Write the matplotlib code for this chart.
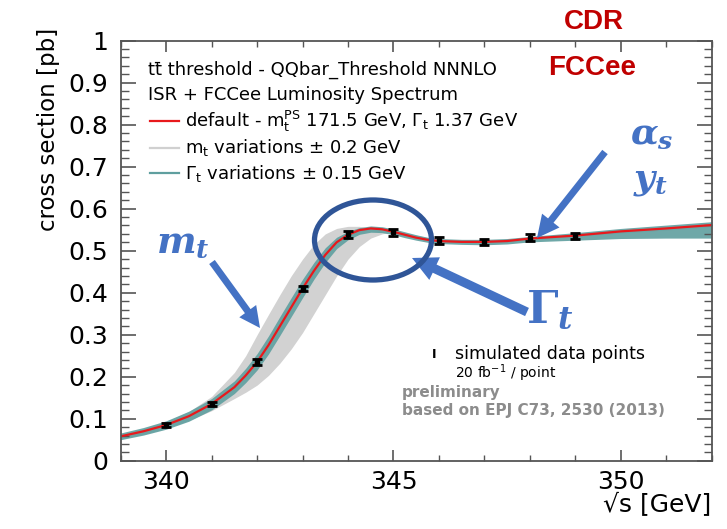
import matplotlib
matplotlib.use("Agg")
import matplotlib.pyplot as plt
import matplotlib.patches as mpatches
from matplotlib.lines import Line2D
from matplotlib.ticker import MultipleLocator

plt.rcParams['font.family'] = ['DejaVu Sans']
plt.rcParams['mathtext.fontset'] = 'custom'
plt.rcParams['mathtext.rm'] = 'DejaVu Sans'
plt.rcParams['mathtext.it'] = 'DejaVu Serif:italic:bold'
plt.rcParams['mathtext.bf'] = 'DejaVu Serif:bold'

# theory curve (default) and variation bands
sqrt_s = [339, 339.5, 340, 340.5, 341, 341.5, 341.75, 342, 342.25, 342.5, 342.75,
          343, 343.25, 343.5, 343.75, 344, 344.25, 344.5, 344.75, 345, 345.25,
          345.5, 345.75, 346, 346.5, 347, 347.5, 348, 349, 350, 351, 352]
xsec_default = [0.058, 0.070, 0.085, 0.106, 0.135, 0.175, 0.203, 0.235, 0.275, 0.320, 0.365,
                0.410, 0.452, 0.490, 0.520, 0.538, 0.549, 0.553, 0.551, 0.545, 0.538,
                0.531, 0.526, 0.523, 0.521, 0.521, 0.523, 0.529, 0.536, 0.546, 0.553, 0.561]
mt_band_hi = [0.063, 0.076, 0.093, 0.117, 0.153, 0.210, 0.250, 0.300, 0.348, 0.395, 0.440,
              0.480, 0.515, 0.540, 0.553, 0.558, 0.558, 0.553, 0.546, 0.540, 0.534,
              0.530, 0.527, 0.525, 0.523, 0.523, 0.525, 0.530, 0.538, 0.546, 0.553, 0.560]
mt_band_lo = [0.052, 0.063, 0.077, 0.096, 0.119, 0.148, 0.163, 0.180, 0.203, 0.232, 0.266,
              0.305, 0.350, 0.395, 0.440, 0.480, 0.510, 0.530, 0.540, 0.545, 0.542,
              0.537, 0.531, 0.526, 0.521, 0.519, 0.521, 0.526, 0.534, 0.542, 0.549, 0.557]
gt_band_hi = [0.066, 0.079, 0.095, 0.118, 0.148, 0.190, 0.220, 0.255, 0.297, 0.343, 0.388,
              0.432, 0.472, 0.507, 0.532, 0.546, 0.555, 0.559, 0.557, 0.552, 0.545,
              0.538, 0.532, 0.529, 0.527, 0.527, 0.529, 0.534, 0.543, 0.553, 0.561, 0.569]
gt_band_lo = [0.050, 0.061, 0.075, 0.094, 0.121, 0.160, 0.186, 0.216, 0.254, 0.298, 0.343,
              0.388, 0.432, 0.472, 0.505, 0.526, 0.539, 0.544, 0.543, 0.538, 0.531,
              0.525, 0.520, 0.517, 0.515, 0.514, 0.516, 0.521, 0.525, 0.529, 0.530, 0.530]

# simulated data points, 20 fb^-1 / point
data_x = [340, 341, 342, 343, 344, 345, 346, 347, 348, 349]
data_y = [0.085, 0.135, 0.235, 0.410, 0.539, 0.544, 0.525, 0.521, 0.531, 0.535]
data_err = [0.005, 0.005, 0.006, 0.007, 0.008, 0.008, 0.008, 0.008, 0.008, 0.008]

W, H = 727, 529


def px(x, y):
    # pixel position in the picture -> figure fraction
    return x / W, 1 - y / H


fig = plt.figure(figsize=(W / 100, H / 100), dpi=100)
ax = fig.add_axes([120.7 / W, (H - 460.7) / H, 591 / W, 420 / H])

ax.fill_between(sqrt_s, mt_band_lo, mt_band_hi, color='#d2d2d2', lw=0)
ax.fill_between(sqrt_s, gt_band_lo, gt_band_hi, color='#5f9f9f', lw=0, alpha=0.9)
ax.plot(sqrt_s, xsec_default, color='#e8191c', lw=1.6)
ax.errorbar(data_x, data_y, yerr=data_err, fmt='s', color='black', ms=3.5,
            capsize=3.5, capthick=2, elinewidth=1.5)

ax.set_xlim(339, 352)
ax.set_ylim(0, 1)
ax.xaxis.set_major_locator(MultipleLocator(5))
ax.xaxis.set_minor_locator(MultipleLocator(1))
ax.yaxis.set_major_locator(MultipleLocator(0.1))
ax.yaxis.set_minor_locator(MultipleLocator(0.02))
ax.set_yticks([0, 0.1, 0.2, 0.3, 0.4, 0.5, 0.6, 0.7, 0.8, 0.9, 1.0])
ax.set_yticklabels(['0', '0.1', '0.2', '0.3', '0.4', '0.5', '0.6', '0.7', '0.8', '0.9', '1'])
ax.tick_params(which='both', direction='in', top=True, right=True, color='#555555')
ax.tick_params(axis='x', which='major', length=8, width=1.2, labelsize=18, pad=7)
ax.tick_params(axis='x', which='minor', length=4, width=1.0)
ax.tick_params(axis='y', which='major', length=11, width=1.2, labelsize=18, pad=9)
ax.tick_params(axis='y', which='minor', length=6, width=1.0)
for sp in ax.spines.values():
    sp.set_color('#555555')
    sp.set_linewidth(1.3)

ax.set_xlabel('\u221as [GeV]', fontsize=18, loc='right')
ax.xaxis.set_label_coords(1.0, -0.078)
ax.set_ylabel('cross section [pb]', fontsize=16.5, loc='top')
ax.yaxis.set_label_coords(-0.103, 1.03)

# legend block, drawn as ROOT does it
fig.text(*px(148, 70), 'tt\u0304 threshold - QQbar_Threshold NNNLO', fontsize=13, va='center')
fig.text(*px(148, 95), 'ISR + FCCee Luminosity Spectrum', fontsize=13, va='center')
leg = [(121, '#e8191c', r'default - $\mathrm{m_t^{PS}}$ 171.5 GeV, $\Gamma_\mathrm{t}$ 1.37 GeV'),
       (148, '#d0d0d0', r'$\mathrm{m_t}$ variations ± 0.2 GeV'),
       (173, '#5f9f9f', r'$\Gamma_\mathrm{t}$ variations ± 0.15 GeV')]
for y, c, label in leg:
    x0, yy = px(150, y)
    x1, _ = px(179, y)
    fig.add_artist(Line2D([x0, x1], [yy, yy], color=c, lw=1.6, transform=fig.transFigure))
    fig.text(*px(185, y), label, fontsize=13, va='center')

fig.text(*px(434, 354), 'I', fontsize=9, fontweight='bold', va='center', ha='center')
fig.text(*px(455, 354), 'simulated data points', fontsize=12.5, va='center')
fig.text(*px(455, 373), r'20 fb$^{-1}$ / point', fontsize=10, va='center')
fig.text(*px(402, 392), 'preliminary', fontsize=11, fontweight='bold', color='#8c8c8c', va='center')
fig.text(*px(402, 411), 'based on EPJ C73, 2530 (2013)', fontsize=11, fontweight='bold',
         color='#8c8c8c', va='center')

# slide annotations
fig.text(*px(594, 22), 'CDR', fontsize=20, fontweight='bold', color='#c00000',
         family='Liberation Sans', ha='center', va='center')
fig.text(*px(592, 68), 'FCCee', fontsize=20, fontweight='bold', color='#c00000',
         family='Liberation Sans', ha='center', va='center')

blue = '#4472c4'
fig.text(*px(183, 242), r'$m_t$', fontsize=27, color=blue, ha='center', va='center')
fig.text(*px(550, 310), r'$\mathbf{\Gamma}_t$', fontsize=32, color=blue, ha='center', va='center')
fig.text(*px(652, 134), r'$\alpha_s$', fontsize=26, color=blue, ha='center', va='center')
fig.text(*px(651, 181), r'$y_t$', fontsize=26, color=blue, ha='center', va='center')

arrows = [((212, 262), (260, 328), 5, 15),
          ((527, 312), (412, 258), 6.5, 18),
          ((605, 152), (537, 238), 5, 16)]
for (xa, ya), (xb, yb), tw, hw in arrows:
    fig.add_artist(mpatches.FancyArrowPatch(
        px(xa, ya), px(xb, yb), transform=fig.transFigure,
        arrowstyle=f'simple,tail_width={tw},head_width={hw},head_length={hw}',
        mutation_scale=1, color=blue, lw=0, shrinkA=0, shrinkB=0))

fig.add_artist(mpatches.Ellipse(px(373, 240), 117 / W, 80 / H, transform=fig.transFigure,
                                fill=False, ec='#2f5597', lw=3.8))

fig.savefig('out.png', dpi=100)
